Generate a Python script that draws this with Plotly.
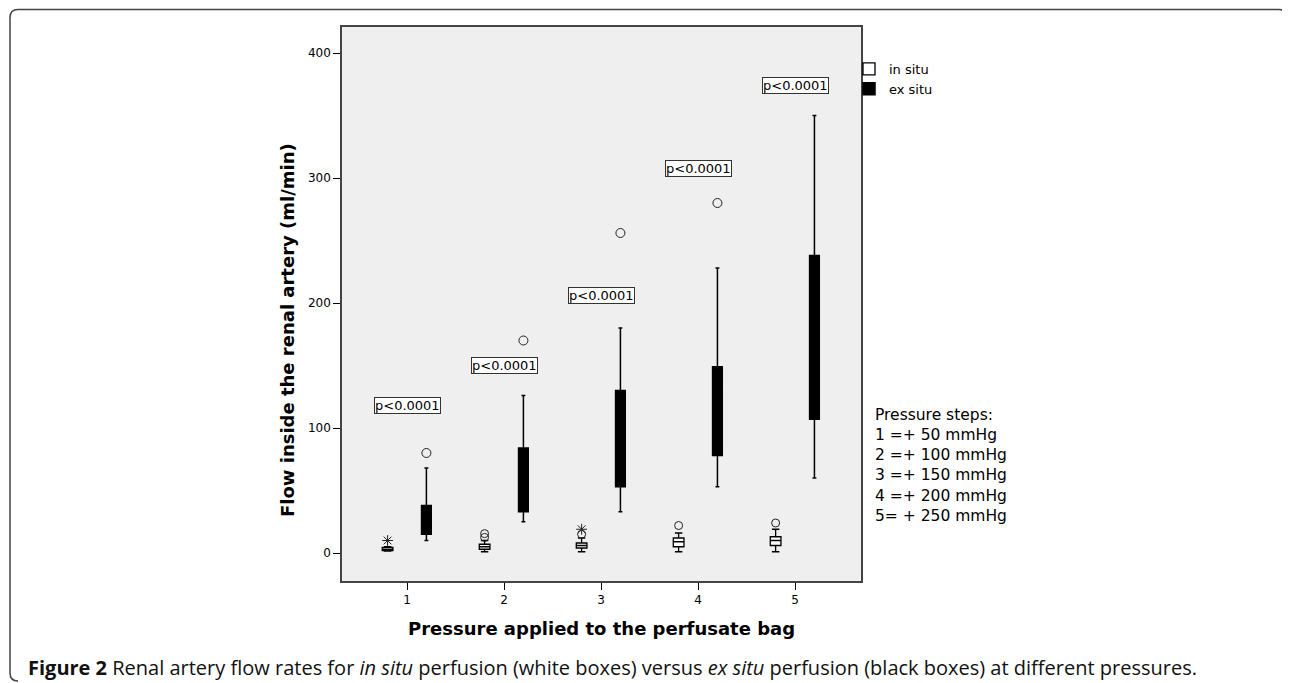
import plotly.graph_objects as go

# ---------------- data ----------------
groups = [1, 2, 3, 4, 5]
x_labels = ["1", "2", "3", "4", "5"]

in_q1 = [2, 3, 4, 5, 6]
in_med = [3, 5, 6, 9, 10]
in_q3 = [4.5, 7, 8, 12, 13]
in_low = [1.5, 1, 1, 1, 1]
in_high = [5, 10, 12, 16, 19]

in_circle_grp = [2, 2, 3, 4, 5]
in_circle_val = [12.5, 15.5, 15, 22, 24]
in_star_grp = [1, 3]
in_star_val = [10, 19]

ex_q1 = [15, 33, 53, 78, 107]
ex_med = [23, 53, 87, 130, 170]
ex_q3 = [38, 84, 130, 149, 238]
ex_low = [10, 25, 33, 53, 60]
ex_high = [68, 126, 180, 228, 350]

ex_circle_grp = [1, 2, 3, 4]
ex_circle_val = [80, 170, 256, 280]

p_text = ["p<0.0001"] * 5
p_y = [118, 150, 206, 308, 374]

steps_lines = ["Pressure steps:", "1 =+ 50 mmHg", "2 =+ 100 mmHg",
               "3 =+ 150 mmHg", "4 =+ 200 mmHg", "5= + 250 mmHg"]

y_ticks = [0, 100, 200, 300, 400]

OFF = 0.2

# ---------------- layout helpers ----------------
# The page body has an 8px margin; positions below are measured on the
# 1290x683 reference and shifted by that margin.
M = 8
W, H = 1290 - M, 683 - M
PL, PR, PT, PB = 342 - M, 861 - M, 27 - M, 581 - M


def px(xref_px):
    return (xref_px - M - PL) / (PR - PL)


def py(yref_px):
    return (PB - (yref_px - M)) / (PB - PT)


tick_font = dict(family="DejaVu Sans", size=12, color="black")

fig = go.Figure()

fig.add_trace(go.Box(
    name="in situ", x=[g - OFF for g in groups],
    q1=in_q1, median=in_med, q3=in_q3, lowerfence=in_low, upperfence=in_high,
    boxpoints=False, width=0.11, whiskerwidth=0.7,
    fillcolor="white", line=dict(color="black", width=1.3),
))
fig.add_trace(go.Box(
    name="ex situ", x=[g + OFF for g in groups],
    q1=ex_q1, median=ex_med, q3=ex_q3, lowerfence=ex_low, upperfence=ex_high,
    boxpoints=False, width=0.1, whiskerwidth=0.4,
    fillcolor="black", line=dict(color="black", width=1.5),
))

fig.add_trace(go.Scatter(
    x=[g - OFF for g in in_circle_grp], y=in_circle_val, mode="markers",
    marker=dict(symbol="circle-open", size=8, color="#222", line=dict(width=1)),
    showlegend=False, hoverinfo="skip"))
fig.add_trace(go.Scatter(
    x=[g - OFF for g in in_star_grp], y=in_star_val, mode="markers",
    marker=dict(symbol="asterisk-open", size=9, color="#222", line=dict(width=1)),
    showlegend=False, hoverinfo="skip"))
fig.add_trace(go.Scatter(
    x=[g + OFF for g in ex_circle_grp], y=ex_circle_val, mode="markers",
    marker=dict(symbol="circle-open", size=9, color="#222", line=dict(width=1)),
    showlegend=False, hoverinfo="skip"))

annotations = []
for g, t, yv in zip(groups, p_text, p_y):
    annotations.append(dict(
        x=g, y=yv, xref="x", yref="y", text=t, showarrow=False,
        font=dict(family="DejaVu Sans", size=13, color="black"),
        bgcolor="white", bordercolor="#333", borderwidth=1, borderpad=0,
    ))

annotations.append(dict(
    x=px(873), y=py(466), xref="paper", yref="paper", text="<br>".join(steps_lines),
    showarrow=False, xanchor="left", yanchor="middle", align="left",
    font=dict(family="DejaVu Sans", size=15.5, color="black")))

annotations.append(dict(
    x=0.5, y=py(628), xref="paper", yref="paper",
    text="<b>Pressure applied to the perfusate bag</b>", showarrow=False,
    xanchor="center", yanchor="middle",
    font=dict(family="DejaVu Sans", size=18, color="black")))
annotations.append(dict(
    x=px(287), y=py(330), xref="paper", yref="paper",
    text="<b>Flow inside the renal artery (ml/min)</b>", showarrow=False,
    textangle=-90, xanchor="center", yanchor="middle",
    font=dict(family="DejaVu Sans", size=18, color="black")))
annotations.append(dict(
    x=px(26), y=py(667), xref="paper", yref="paper",
    text="<b>Figure 2</b> Renal artery flow rates for <i>in situ</i> perfusion (white boxes) "
         "versus <i>ex situ</i> perfusion (black boxes) at different pressures.",
    showarrow=False, xanchor="left", yanchor="middle",
    font=dict(family="Open Sans", size=20, color="#111")))

# rounded outer frame
ul, ur = px(10), px(1287)
vt, vb = py(9.5), py(681)
ru, rv = 8 / (PR - PL), 8 / (PB - PT)
frame_path = (
    f"M {ul + ru} {vb} Q {ul} {vb} {ul} {vb + rv} "
    f"L {ul} {vt - rv} Q {ul} {vt} {ul + ru} {vt} "
    f"L {ur - ru} {vt} Q {ur} {vt} {ur} {vt - rv}"
)

fig.update_layout(
    width=W, height=H,
    margin=dict(l=PL, r=W - PR, t=PT, b=H - PB),
    paper_bgcolor="white", plot_bgcolor="#efefef",
    boxmode="overlay",
    showlegend=True,
    legend=dict(x=px(849), y=py(54), xanchor="left", yanchor="top",
                bgcolor="rgba(0,0,0,0)", font=dict(family="DejaVu Sans", size=13, color="black"),
                tracegroupgap=0, itemwidth=30),
    annotations=annotations,
    shapes=[dict(type="path", xref="paper", yref="paper", path=frame_path,
                 line=dict(color="#444", width=1.5))],
    xaxis=dict(range=[0.33, 5.68], tickvals=groups, ticktext=x_labels,
               ticks="outside", ticklen=7, tickcolor="black", tickwidth=1.2,
               showgrid=False, zeroline=False, showline=True, mirror=True,
               linecolor="#444", linewidth=1.5, tickfont=tick_font),
    yaxis=dict(range=[-22.4, 420.8], tickvals=y_ticks,
               ticks="outside", ticklen=7, tickcolor="black", tickwidth=1.2,
               showgrid=False, zeroline=False, showline=True, mirror=True,
               linecolor="#444", linewidth=1.5, tickfont=tick_font),
)

fig.write_html("out.html")
